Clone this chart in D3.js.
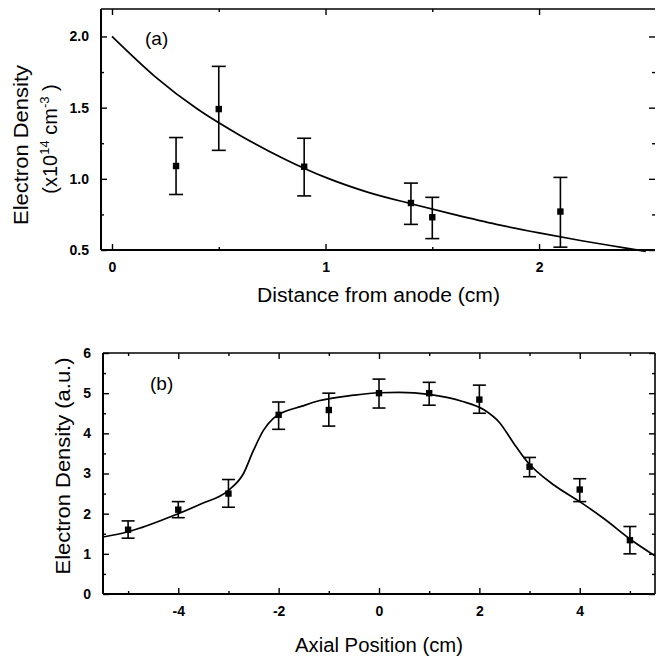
<!DOCTYPE html>
<html><head><meta charset="utf-8">
<script src="https://cdn.jsdelivr.net/npm/d3@7"></script>
<style>body{margin:0;background:#fff}svg{display:block}text{font-family:"Liberation Sans",Arial,sans-serif;fill:#000}</style>
</head><body>
<script>
// Panel (a)
const aX = [0.3, 0.5, 0.9, 1.4, 1.5, 2.1];
const aY = [1.09, 1.49, 1.085, 0.83, 0.73, 0.77];
const aLo = [0.89, 1.2, 0.88, 0.68, 0.58, 0.52];
const aHi = [1.29, 1.79, 1.285, 0.97, 0.87, 1.01];
const aCurveX = [0, 0.2, 0.4, 0.6, 0.8, 1.0, 1.2, 1.4, 1.6, 1.8, 2.0, 2.2, 2.4, 2.5];
const aCurveY = [2.0, 1.72, 1.49, 1.305, 1.145, 1.01, 0.905, 0.825, 0.75, 0.68, 0.62, 0.565, 0.515, 0.49];
const aXTicks = [0, 1, 2];
const aXMinor = [0.5, 1.5];
const aYTicks = [0.5, 1.0, 1.5, 2.0];
const aYMinor = [0.75, 1.25, 1.75];

// Panel (b)
const bX = [-5, -4, -3, -2, -1, 0, 1, 2, 3, 4, 5];
const bY = [1.6, 2.1, 2.5, 4.46, 4.58, 5.0, 5.0, 4.84, 3.17, 2.6, 1.34];
const bLo = [1.39, 1.9, 2.16, 4.1, 4.18, 4.63, 4.7, 4.5, 2.92, 2.3, 1.0];
const bHi = [1.82, 2.3, 2.85, 4.78, 5.0, 5.35, 5.27, 5.2, 3.4, 2.87, 1.68];
const bCurveX = [-5.5, -5, -4, -3.55, -3, -2.7, -2.5, -2.3, -2.1, -1.95, -1.55, -1.2, -0.5, 0, 0.4, 1, 1.65, 2.1, 2.4, 2.67, 2.95, 3.5, 4, 4.5, 5, 5.5];
const bCurveY = [1.42, 1.55, 2.0, 2.24, 2.58, 3.0, 3.58, 4.08, 4.38, 4.5, 4.67, 4.81, 4.95, 5.01, 5.02, 4.97, 4.8, 4.58, 4.27, 3.78, 3.3, 2.7, 2.3, 1.86, 1.37, 0.95];
const bXTicks = [-4, -2, 0, 2, 4];
const bXMinor = [-5, -3, -1, 1, 3, 5];
const bYTicks = [0, 1, 2, 3, 4, 5, 6];
const bYMinor = [0.5, 1.5, 2.5, 3.5, 4.5, 5.5];

const W = 656, H = 661;
const svg = d3.select("body").append("svg").attr("width", W).attr("height", H);

function panel(o) {
  const x = d3.scaleLinear().domain(o.xd).range([o.l, o.r]);
  const y = d3.scaleLinear().domain(o.yd).range([o.b, o.t]);
  const g = svg.append("g");
  g.append("line").attr("x1", o.l).attr("x2", o.r).attr("y1", o.b).attr("y2", o.b).attr("stroke", "#000").attr("stroke-width", 2);
  g.append("line").attr("x1", o.l).attr("x2", o.r).attr("y1", o.t).attr("y2", o.t).attr("stroke", "#000").attr("stroke-width", 1.6);
  g.append("line").attr("x1", o.l).attr("x2", o.l).attr("y1", o.t).attr("y2", o.b).attr("stroke", "#000").attr("stroke-width", 2);
  if (o.rightLine) g.append("line").attr("x1", o.r).attr("x2", o.r).attr("y1", o.t).attr("y2", o.b).attr("stroke", "#000").attr("stroke-width", 1.6);
  const ax = (gen, tr) => {
    const a = g.append("g").attr("transform", tr).call(gen);
    a.select(".domain").remove();
    a.selectAll("line").attr("stroke", "#000").attr("stroke-width", 1.4);
    return a;
  };
  const bot = ax(d3.axisBottom(x).tickValues(o.xt).tickSize(-6).tickPadding(12).tickFormat(o.fmtX), `translate(0,${o.b})`);
  bot.selectAll("text").attr("font-size", 14).attr("font-weight", "bold").attr("fill", "#000").attr("font-family", '"Liberation Sans",Arial,sans-serif');
  ax(d3.axisBottom(x).tickValues(o.xm).tickSize(-3).tickFormat(""), `translate(0,${o.b})`);
  ax(d3.axisTop(x).tickValues(o.xt).tickSize(-6).tickFormat(""), `translate(0,${o.t})`);
  ax(d3.axisTop(x).tickValues(o.xm).tickSize(-3).tickFormat(""), `translate(0,${o.t})`);
  const lef = ax(d3.axisLeft(y).tickValues(o.yt).tickSize(-6).tickPadding(12).tickFormat(o.fmtY), `translate(${o.l},0)`);
  lef.selectAll("text").attr("font-size", 14).attr("font-weight", "bold").attr("fill", "#000").attr("font-family", '"Liberation Sans",Arial,sans-serif');
  ax(d3.axisLeft(y).tickValues(o.ym).tickSize(-3).tickFormat(""), `translate(${o.l},0)`);
  ax(d3.axisRight(y).tickValues(o.yt).tickSize(-6).tickFormat(""), `translate(${o.r},0)`);
  ax(d3.axisRight(y).tickValues(o.ym).tickSize(-3).tickFormat(""), `translate(${o.r},0)`);

  const pts = o.cx.map((v, i) => [v, o.cy[i]]);
  g.append("path").datum(pts)
    .attr("d", d3.line().x(d => x(d[0])).y(d => y(d[1])).curve(d3.curveMonotoneX))
    .attr("fill", "none").attr("stroke", "#000").attr("stroke-width", 1.7);
  const cap = o.cap;
  o.px.forEach((v, i) => {
    const cx = x(v);
    g.append("line").attr("x1", cx).attr("x2", cx).attr("y1", y(o.lo[i])).attr("y2", y(o.hi[i])).attr("stroke", "#000").attr("stroke-width", 1.6);
    [o.lo[i], o.hi[i]].forEach(e => {
      g.append("line").attr("x1", cx - cap / 2).attr("x2", cx + cap / 2).attr("y1", y(e)).attr("y2", y(e)).attr("stroke", "#000").attr("stroke-width", 1.6);
    });
    g.append("rect").attr("x", cx - 3.2).attr("y", y(o.py[i]) - 3.2).attr("width", 6.4).attr("height", 6.4).attr("fill", "#000");
  });
  return { x, y };
}

panel({
  l: 101, r: 655, t: 9, b: 250,
  xd: [-0.0515, 2.543], yd: [0.5, 2.193],
  xt: aXTicks, xm: aXMinor, yt: aYTicks, ym: aYMinor,
  fmtX: d3.format("d"), fmtY: d3.format(".1f"),
  cx: aCurveX, cy: aCurveY, px: aX, py: aY, lo: aLo, hi: aHi, cap: 14, rightLine: false
});
panel({
  l: 103, r: 655, t: 353, b: 594,
  xd: [-5.5, 5.5], yd: [0, 6],
  xt: bXTicks, xm: bXMinor, yt: bYTicks, ym: bYMinor,
  fmtX: d => (d < 0 ? "-" + Math.abs(d) : String(d)), fmtY: d3.format("d"),
  cx: bCurveX, cy: bCurveY, px: bX, py: bY, lo: bLo, hi: bHi, cap: 13, rightLine: true
});

svg.append("text").attr("x", 145).attr("y", 45).attr("font-size", 19).text("(a)");
svg.append("text").attr("x", 150).attr("y", 390).attr("font-size", 19).text("(b)");

svg.append("text").attr("x", 257).attr("y", 302).attr("font-size", 20)
  .attr("textLength", 243).attr("lengthAdjust", "spacingAndGlyphs").text("Distance from anode (cm)");
svg.append("text").attr("x", 295).attr("y", 652).attr("font-size", 20)
  .attr("textLength", 168).attr("lengthAdjust", "spacingAndGlyphs").text("Axial Position (cm)");

svg.append("text").attr("transform", "translate(28,145) rotate(-90)").attr("text-anchor", "middle")
  .attr("font-size", 20).attr("textLength", 160).attr("lengthAdjust", "spacingAndGlyphs").text("Electron Density");
const t2 = svg.append("text").attr("transform", "translate(57,139) rotate(-90)").attr("text-anchor", "middle").attr("font-size", 20);
t2.append("tspan").text("(x10");
t2.append("tspan").attr("font-size", 13).attr("dy", -8).text("14");
t2.append("tspan").attr("dy", 8).text(" cm");
t2.append("tspan").attr("font-size", 13).attr("dy", -8).text("-3");
t2.append("tspan").attr("dy", 8).text(" )");

svg.append("text").attr("transform", "translate(70,466) rotate(-90)").attr("text-anchor", "middle")
  .attr("font-size", 20).attr("textLength", 217).attr("lengthAdjust", "spacingAndGlyphs").text("Electron Density (a.u.)");
</script>
</body></html>
